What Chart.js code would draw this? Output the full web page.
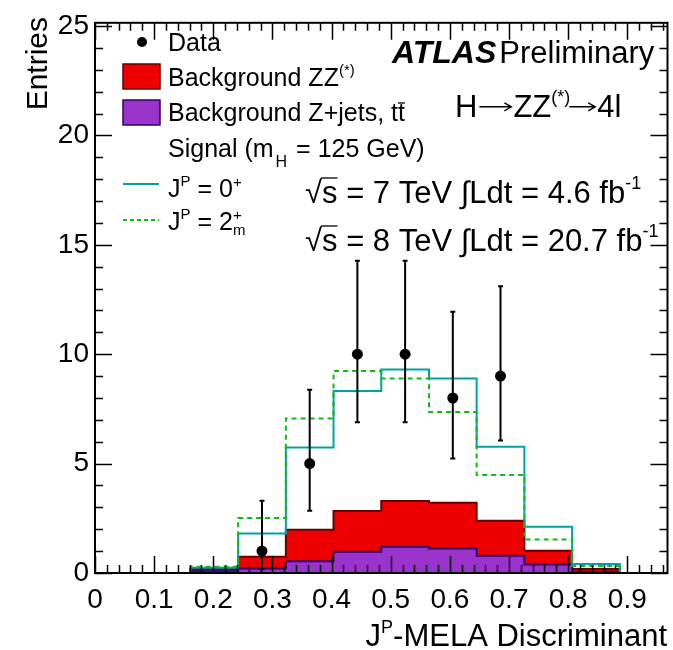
<!DOCTYPE html>
<html>
<head>
<meta charset="utf-8">
<script src="https://cdn.jsdelivr.net/npm/chart.js@4/dist/chart.umd.min.js"></script>
<style>
html,body{margin:0;padding:0;background:#fff;}
#wrap{width:673px;height:650px;}
</style>
</head>
<body>
<div id="wrap"><canvas id="c" width="673" height="650"></canvas></div>
<script>
// ---- data ----
const binEdges = [0, 0.0807, 0.1613, 0.2420, 0.3227, 0.4033, 0.4840, 0.5647, 0.6453, 0.7260, 0.8067, 0.8873, 0.9680];
const zjetsTtbar = [0, 0, 0.10, 0.21, 0.54, 0.97, 1.20, 1.12, 0.79, 0.39, 0.06, 0];
const zzBackground = [0, 0, 0.10, 0.53, 1.44, 1.86, 2.09, 2.09, 1.60, 0.63, 0.12, 0];
const signal0p = [0, 0, 0.24, 1.80, 5.74, 8.32, 9.30, 8.89, 5.77, 2.11, 0.41, 0];
const signal2mp = [0, 0, 0.29, 2.51, 7.06, 9.23, 8.89, 7.36, 4.48, 1.53, 0.32, 0];
const dataCounts = [0, 0, 0, 1, 5, 10, 10, 8, 9, 0, 0, 0];
const dataErrLow = [0, 0, 0, 0.83, 2.16, 3.11, 3.11, 2.77, 2.94, 0, 0, 0];
const dataErrHigh = [0, 0, 0, 2.30, 3.38, 4.27, 4.27, 3.94, 4.11, 0, 0, 0];
const xTickValues = [0, 0.1, 0.2, 0.3, 0.4, 0.5, 0.6, 0.7, 0.8, 0.9];
const yTickValues = [0, 5, 10, 15, 20, 25];
const xMinorStep = 0.02;
const yMinorStep = 1;

const FAM = '"Liberation Sans", Arial, "DejaVu Sans", sans-serif';
function fnt(s, b, i) { return (i ? 'italic ' : '') + (b ? 'bold ' : '') + s + 'px ' + FAM; }

function stepPoints(vals) {
  const pts = vals.map((v, i) => ({x: binEdges[i], y: v}));
  pts.push({x: binEdges[binEdges.length - 1], y: vals[vals.length - 1]});
  return pts;
}
const bkgTotal = zzBackground.map((v, i) => v + zjetsTtbar[i]);
const dataPoints = [];
dataCounts.forEach((v, i) => { if (v > 0) dataPoints.push({x: (binEdges[i] + binEdges[i + 1]) / 2, y: v, lo: dataErrLow[i], hi: dataErrHigh[i]}); });

function rich(ctx, x, y, parts, align) {
  let w = 0; const items = [];
  for (const p of parts) {
    ctx.font = fnt(p.s, p.b, p.i);
    const pw = p.arrow ? p.arrow : ctx.measureText(p.t).width;
    items.push({p, pw, x0: w + (p.dx || 0)});
    if (!p.stay) w += pw + (p.gap || 0) + (p.dx || 0);
  }
  const start = align === 'right' ? x - w : (align === 'center' ? x - w / 2 : x);
  ctx.textBaseline = 'alphabetic'; ctx.textAlign = 'left'; ctx.fillStyle = '#000';
  for (const it of items) {
    const p = it.p;
    const px = start + it.x0, py = y + (p.dy || 0);
    if (p.arrow) {
      const ay = py - 0.33 * p.s;
      ctx.save(); ctx.strokeStyle = '#000'; ctx.lineWidth = 1.4;
      ctx.beginPath(); ctx.moveTo(px + 2, ay); ctx.lineTo(px + it.pw - 2, ay);
      ctx.moveTo(px + it.pw - 9, ay - 4); ctx.lineTo(px + it.pw - 2, ay); ctx.lineTo(px + it.pw - 9, ay + 4);
      ctx.stroke(); ctx.restore();
      continue;
    }
    ctx.font = fnt(p.s, p.b, p.i);
    ctx.fillText(p.t, px, py);
    if (p.over) {
      ctx.save(); ctx.strokeStyle = '#000'; ctx.lineWidth = p.ow || 1.3;
      ctx.beginPath(); ctx.moveTo(px + (p.ox0 || 0), py - p.over); ctx.lineTo(px + it.pw + (p.ox1 || 0), py - p.over); ctx.stroke(); ctx.restore();
    }
  }
}

const decor = {
  id: 'decor',
  afterDatasetsDraw(chart) {
    const ctx = chart.ctx, xs = chart.scales.x, ys = chart.scales.y;
    ctx.save();
    ctx.strokeStyle = '#000'; ctx.lineWidth = 2;
    for (const p of dataPoints) {
      const px = xs.getPixelForValue(p.x);
      const y1 = ys.getPixelForValue(p.y - p.lo), y2 = ys.getPixelForValue(p.y + p.hi);
      ctx.beginPath(); ctx.moveTo(px, y1); ctx.lineTo(px, y2);
      ctx.moveTo(px - 2.5, y1); ctx.lineTo(px + 2.5, y1);
      ctx.moveTo(px - 2.5, y2); ctx.lineTo(px + 2.5, y2);
      ctx.stroke();
    }
    ctx.restore();
  },
  afterDraw(chart) {
    const ctx = chart.ctx, a = chart.chartArea, xs = chart.scales.x, ys = chart.scales.y;
    ctx.save();
    // ticks
    ctx.strokeStyle = '#000'; ctx.lineWidth = 1.5;
    const MJ = 17, MN = 8;
    ctx.beginPath();
    for (let v = 0; v <= xs.max + 1e-9; v += xMinorStep) {
      const isMaj = xTickValues.some(t => Math.abs(t - v) < 1e-6);
      const L = isMaj ? MJ : MN, px = Math.round(xs.getPixelForValue(v)) + 0.5;
      ctx.moveTo(px, a.bottom); ctx.lineTo(px, a.bottom - L);
      ctx.moveTo(px, a.top); ctx.lineTo(px, a.top + L);
    }
    for (let v = 0; v <= ys.max + 1e-9; v += yMinorStep) {
      const isMaj = yTickValues.some(t => Math.abs(t - v) < 1e-6);
      const L = isMaj ? MJ : MN, py = Math.round(ys.getPixelForValue(v)) + 0.5;
      ctx.moveTo(a.left, py); ctx.lineTo(a.left + L, py);
      ctx.moveTo(a.right, py); ctx.lineTo(a.right - L, py);
    }
    ctx.stroke();
    // frame
    ctx.lineWidth = 2;
    ctx.strokeRect(a.left, a.top, a.right - a.left, a.bottom - a.top);

    // axis titles
    rich(ctx, 667, 646, [{t: 'J', s: 31}, {t: 'P', s: 18, dy: -13}, {t: '-MELA Discriminant', s: 31}], 'right');
    ctx.save();
    ctx.translate(47, 17); ctx.rotate(-Math.PI / 2);
    ctx.font = fnt(30); ctx.textAlign = 'right'; ctx.textBaseline = 'alphabetic'; ctx.fillStyle = '#000';
    ctx.fillText('Entries', 0, 0);
    ctx.restore();

    // legend
    const LS = 25;
    ctx.fillStyle = '#000';
    ctx.beginPath(); ctx.arc(142, 42, 5, 0, Math.PI * 2); ctx.fill();
    rich(ctx, 168, 51, [{t: 'Data', s: LS}]);
    ctx.fillStyle = '#ee0000'; ctx.fillRect(123, 64, 37, 25);
    ctx.strokeStyle = '#660000'; ctx.lineWidth = 1.5; ctx.strokeRect(123, 64, 37, 25);
    rich(ctx, 168, 86, [{t: 'Background ZZ', s: LS}, {t: '(*)', s: 15, dy: -11}]);
    ctx.fillStyle = '#9933cc'; ctx.fillRect(123, 100, 37, 25);
    ctx.strokeStyle = '#330066'; ctx.lineWidth = 1.5; ctx.strokeRect(123, 100, 37, 25);
    rich(ctx, 168, 121, [{t: 'Background Z+jets, t', s: LS}, {t: 't', s: LS, over: 18, ox0: 0, ox1: 0}]);
    rich(ctx, 168, 157, [{t: 'Signal (m', s: LS}, {t: 'H', s: 16, dy: 10, dx: 2, gap: 2}, {t: ' = 125 GeV)', s: LS}]);
    ctx.strokeStyle = '#00a3a3'; ctx.lineWidth = 2; ctx.setLineDash([]);
    ctx.beginPath(); ctx.moveTo(123, 184); ctx.lineTo(159, 184); ctx.stroke();
    rich(ctx, 168, 197, [{t: 'J', s: LS}, {t: 'P', s: 15, dy: -11}, {t: ' = 0', s: LS}, {t: '+', s: 15, dy: -10}]);
    ctx.strokeStyle = '#11bb11'; ctx.setLineDash([4, 3]);
    ctx.beginPath(); ctx.moveTo(123, 220); ctx.lineTo(159, 220); ctx.stroke();
    ctx.setLineDash([]);
    rich(ctx, 168, 230, [{t: 'J', s: LS}, {t: 'P', s: 15, dy: -11}, {t: ' = 2', s: LS}, {t: '+', s: 15, dy: -10, stay: true}, {t: 'm', s: 15, dy: 5}]);

    // ATLAS labels
    rich(ctx, 392, 63, [{t: 'ATLAS', s: 32, b: true, i: true, gap: 3}, {t: 'Preliminary', s: 31}]);
    rich(ctx, 455, 117, [{t: 'H', s: 31}, {arrow: 36, s: 31}, {t: 'ZZ', s: 31}, {t: '(*)', s: 18, dy: -14}, {arrow: 30, s: 31, dx: -3}, {t: '4l', s: 31}]);
    rich(ctx, 305, 203, [{t: '\u221A', s: 31}, {t: 's', s: 31, over: 25, ox0: -1}, {t: ' = 7 TeV \u222BLdt = 4.6 fb', s: 31}, {t: '-1', s: 18, dy: -14}]);
    rich(ctx, 305, 251, [{t: '\u221A', s: 31}, {t: 's', s: 31, over: 25, ox0: -1}, {t: ' = 8 TeV \u222BLdt = 20.7 fb', s: 31}, {t: '-1', s: 18, dy: -14}]);
    ctx.restore();
  }
};

const ctx = document.getElementById('c').getContext('2d');
new Chart(ctx, {
  type: 'line',
  data: {
    datasets: [
      {label: 'Background ZZ', data: stepPoints(bkgTotal), stepped: true, borderColor: '#660000', borderWidth: 2, backgroundColor: '#ee0000', fill: 'origin', pointRadius: 0, order: 5},
      {label: 'Background Z+jets, tt', data: stepPoints(zjetsTtbar), stepped: true, borderColor: '#330066', borderWidth: 2, backgroundColor: '#9933cc', fill: 'origin', pointRadius: 0, order: 4},
      {label: 'JP = 0+', data: stepPoints(signal0p), stepped: true, borderColor: '#00a3a3', borderWidth: 2, fill: false, pointRadius: 0, order: 3},
      {label: 'JP = 2m+', data: stepPoints(signal2mp), stepped: true, borderColor: '#11bb11', borderWidth: 2, borderDash: [5, 4], fill: false, pointRadius: 0, order: 2},
      {label: 'Data', data: dataPoints, showLine: false, pointRadius: 5.5, pointBackgroundColor: '#000', pointBorderColor: '#000', borderWidth: 0, order: 1}
    ]
  },
  options: {
    responsive: false, animation: false, devicePixelRatio: 1,
    layout: {padding: {top: 17, right: 3, left: 0, bottom: 0}},
    plugins: {legend: {display: false}, tooltip: {enabled: false}},
    scales: {
      x: {
        type: 'linear', min: 0, max: binEdges[binEdges.length - 1],
        afterBuildTicks: s => { s.ticks = xTickValues.map(v => ({value: v})); },
        afterFit: s => { s.height = 77; },
        ticks: {callback: v => (v === 0 ? '0' : v.toFixed(1)), font: {family: FAM, size: 28}, color: '#000', padding: 10, maxRotation: 0, autoSkip: false},
        grid: {display: false, drawTicks: false}, border: {display: false}
      },
      y: {
        type: 'linear', min: 0, max: 25.15,
        afterBuildTicks: s => { s.ticks = yTickValues.map(v => ({value: v})); },
        afterFit: s => { s.width = 95; },
        ticks: {font: {family: FAM, size: 28}, color: '#000', padding: 6, autoSkip: false},
        grid: {display: false, drawTicks: false}, border: {display: false}
      }
    }
  },
  plugins: [decor]
});
</script>
</body>
</html>
